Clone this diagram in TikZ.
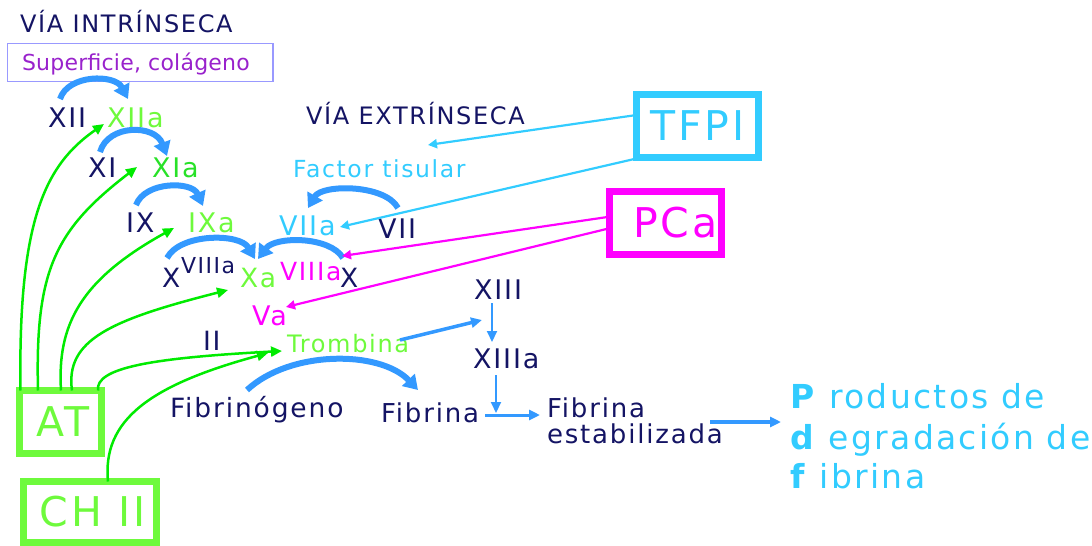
\documentclass[tikz,border=0pt]{standalone}
\usepackage{fontspec}
\setmainfont{DejaVu Sans}[LetterSpace=7]
\newfontfamily\tightf{DejaVu Sans}[LetterSpace=1]
\usetikzlibrary{arrows.meta,calc}
\definecolor{navy}{RGB}{20,20,100}
\definecolor{lgreen}{RGB}{110,250,60}
\definecolor{mgreen}{RGB}{40,225,40}
\definecolor{bgreen}{RGB}{0,235,0}
\definecolor{cyanc}{RGB}{50,204,255}
\definecolor{bluec}{RGB}{51,153,255}
\definecolor{magc}{RGB}{255,0,255}
\definecolor{purp}{RGB}{153,34,204}
\definecolor{lav}{RGB}{153,153,255}
\tikzset{
  t/.style={anchor=base west, inner sep=0pt, outer sep=0pt, text=navy, font=\fontsize{#1}{#1}\selectfont},
  t/.default=26.5,
  bigbox/.style={draw, line width=7pt, inner sep=0pt, outer sep=0pt, font=\fontsize{41}{41}\selectfont},
  barc/.style={draw=bluec, line width=6pt, -{Triangle[width=17pt,length=14pt]}},
  bline/.style={draw=bluec, line width=#1, -{Triangle[width=10pt,length=11pt]}},
  bline/.default=3pt,
  gline/.style={draw=bgreen, line width=2.5pt, -{Triangle[width=10pt,length=11pt]}},
  cline/.style={draw=cyanc, line width=2.2pt, -{Triangle[width=9pt,length=9pt]}},
  mline/.style={draw=magc, line width=2.2pt, -{Triangle[width=9pt,length=9pt]}}
}
\begin{document}
\begin{tikzpicture}[x=1pt,y=-1pt]
\useasboundingbox (0,0) rectangle (1092,546);
% titles
\node[t=24] (vint) at (20,32) {VÍA INTRÍNSECA};
\node[t=24] (vext) at (306,124) {VÍA EXTRÍNSECA};
\node[draw=lav, line width=1.3pt, minimum width=265.5pt, minimum height=38pt, inner sep=0pt] (sup) at (140.25,62.5) {};
\node[t, text=purp, font=\tightf\fontsize{22}{22}\selectfont] (supt) at (22,70) {Superficie, colágeno};
% factors
\node[t=27] (xii) at (48,127) {XII};
\node[t=27, text=lgreen] (xiia) at (107,127) {XIIa};
\node[t=27] (xi) at (88,177) {XI};
\node[t=27, text=mgreen] (xia) at (152,177) {XIa};
\node[t=27] (ix) at (126,232) {IX};
\node[t=27, text=lgreen] (ixa) at (188,232) {IXa};
\node[t] (xl) at (162,287) {X};
\node[t=22] (viiin) at (181,273) {VIIIa};
\node[t, text=lgreen] (xa) at (240,287) {Xa};
\node[t=25, text=magc] (viiim) at (280,280) {VIIIa};
\node[t] (xr) at (340,287) {X};
\node[t=23.5, text=cyanc] (ft) at (293,177) {Factor tisular};
\node[t=27, text=cyanc] (viia) at (279,235) {VIIa};
\node[t=27] (vii) at (378,238) {VII};
\node[t=27, text=magc] (va) at (252,325) {Va};
\node[t] (ii) at (203,350) {II};
\node[t=24, text=lgreen] (trom) at (287,352) {Trombina};
\node[t=27] (xiii) at (474,299) {XIII};
\node[t=27] (xiiia) at (473,368) {XIIIa};
\node[t] (fibg) at (170,417) {Fibrinógeno};
\node[t=26] (fibr) at (381,422) {Fibrina};
\node[t=26] (fe1) at (547,417) {Fibrina};
\node[t=26] (fe2) at (547,443) {estabilizada};
\node[t=33, text=cyanc] (pdf1) at (790,408) {\textbf{P} roductos de};
\node[t=33, text=cyanc] (pdf2) at (790,449) {\textbf{d} egradación de};
\node[t=33, text=cyanc] (pdf3) at (790,488) {\textbf{f} ibrina};
% boxes
\node[bigbox, draw=cyanc, text=cyanc, minimum width=122pt, minimum height=63pt] (tfpi) at (697.5,126) {TFPI};
\node[bigbox, draw=magc, text=magc, minimum width=112pt, minimum height=63pt] (pca) at (665.5,223) {\hspace*{20pt}PCa};
\node[bigbox, draw=lgreen, text=lgreen, minimum width=82pt, minimum height=63pt] (at) at (60.5,422) {\hspace*{5pt}AT};
\node[bigbox, draw=lgreen, text=lgreen, minimum width=133pt, minimum height=61pt] (chii) at (90,512) {\hspace*{5pt}CH II};
% blue activation arcs
\draw[barc] ($(xii.base west)+(12,-28)$) .. controls (68,74) and (115,74) .. ($(xiia.base west)+(21,-28)$);
\draw[barc] ($(xi.base west)+(12,-25)$) .. controls (108,124) and (155,124) .. ($(xia.base west)+(15,-21)$);
\draw[barc] ($(ix.base west)+(10,-27)$) .. controls (145,181) and (192,181) .. ($(ixa.base west)+(15,-26)$);
\draw[barc] ($(xl.base west)+(5,-29)$) .. controls (180,233) and (240,233) .. ($(xa.base west)+(15,-28)$);
\draw[barc] ($(xr.base west)+(3,-29)$) .. controls (330,236) and (275,236) .. ($(xa.base west)+(18,-28)$);
\draw[barc] ($(vii.base west)+(20,-30)$) .. controls (385,184) and (322,184) .. ($(viia.base west)+(29,-27)$);
\draw[barc] ($(fibg.base west)+(77,-27)$) .. controls (290,350) and (380,350) .. ($(fibr.base west)+(37,-32)$);
% thin blue
\draw[bline=3.5pt] ($(trom.base west)+(113,-12)$) -- ($(xiii.base west)+(8,21)$);
\draw[bline=2pt] ($(xiii.base west)+(18,4)$) -- ($(xiiia.base west)+(19,-26)$);
\coordinate (junc) at (496,413);
\draw[bline=2pt] ($(xiiia.base west)+(23,7)$) -- (junc);
\draw[bline=3pt] ($(fibr.base west)+(104,-7)$) -- ($(fe1.base west)+(-7,-2)$);
\draw[bline=3.5pt] ($(fe2.base west)+(163,-21)$) -- ($(pdf1.base west)+(-9,14)$);
% cyan
\coordinate (vextp) at (428,145);
\draw[cline] ($(tfpi.west)+(0,-11)$) -- (vextp);
\draw[cline] ($(tfpi.south west)+(0,1)$) -- ($(viia.base west)+(61,-8)$);
% magenta
\draw[mline] ($(pca.west)+(-2,-6)$) -- ($(viiim.base west)+(62,-24)$);
\draw[mline] ($(pca.west)+(-3,6)$) -- ($(va.base west)+(34,-18)$);
% green inhibition arrows
\draw[gline] ($(at.north west)+(1,0)$) .. controls (18,220) and (45,165) .. ($(xiia.base west)+(-3,-3)$);
\draw[gline] ($(at.north west)+(18.5,0)$) .. controls (35,270) and (55,230) .. ($(xia.base west)+(-15,-10)$);
\draw[gline] ($(at.north west)+(41.5,0)$) .. controls (57,325) and (80,280) .. ($(ixa.base west)+(-14,-4)$);
\draw[gline] ($(at.north west)+(52.5,0)$) .. controls (65,340) and (110,320) .. ($(xa.base west)+(-12,3)$);
\draw[gline] ($(at.north east)+(-3.5,0)$) .. controls (95,368) and (150,358) .. ($(trom.base west)+(-5,-1)$);
\draw[gline] ($(chii.north west)+(84.5,0)$) .. controls (102,420) and (150,385) .. ($(trom.base west)+(-19,1)$);
\end{tikzpicture}
\end{document}
